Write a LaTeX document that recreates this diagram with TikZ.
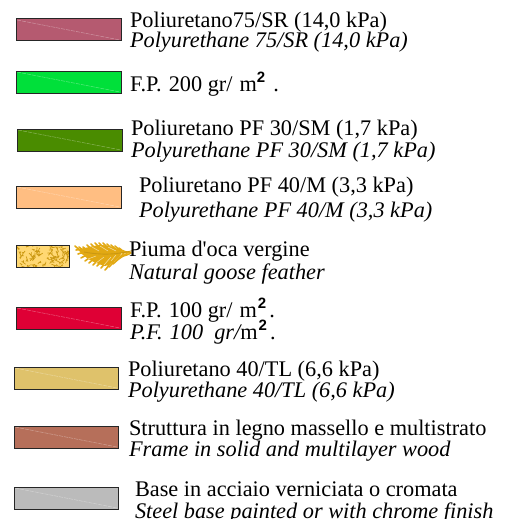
\documentclass[tikz,border=0pt]{standalone}
\usepackage{fontspec}
\setmainfont{Liberation Serif}
\newfontfamily\plainserif{Liberation Serif}
\newfontfamily\boldsans{Liberation Sans}
\definecolor{cA}{HTML}{B55A70}
\definecolor{cB}{HTML}{00E03A}
\definecolor{cC}{HTML}{4A8C00}
\definecolor{cD}{HTML}{FFBE82}
\definecolor{cE}{HTML}{FFD873}
\definecolor{cF}{HTML}{DF0035}
\definecolor{cG}{HTML}{DFC26B}
\definecolor{cH}{HTML}{B66F5A}
\definecolor{cI}{HTML}{BBBBBB}
\definecolor{feather}{HTML}{E2A913}
\tikzset{
 swatch/.style={draw=black!85,line width=1pt},
 lbl/.style={anchor=base west,inner sep=0pt,outer sep=0pt,font=\fontsize{22.3}{24}\selectfont},
 sheen/.style={white,opacity=.35,line width=.5pt,dash pattern=on 4pt off 1pt},
 barb/.style={feather,line width=1.6pt,line cap=round},
 slit/.style={white!65!feather,line width=.5pt},
 fleck/.style={feather!90!black,line width=.7pt}
}
\newcommand{\swatchbox}[6]{% name,x0,y0,x1,y1,color
  \path[fill=#6] (#2,#3) rectangle (#4,#5);
  \draw[sheen] (#2+1,#3+1) -- (#4-1,#5-1);
  \draw[swatch] (#2,#3) rectangle (#4,#5);
  \coordinate (#1) at (#2,#3);
}
\newcommand{\sq}{\raisebox{8.5pt}{\boldsans\bfseries\fontsize{15}{15}\selectfont 2}}
\begin{document}
\begin{tikzpicture}[x=1pt,y=-1pt]
\useasboundingbox (0,0) rectangle (511,519);
\swatchbox{s1}{16}{19}{121}{41}{cA}
\swatchbox{s2}{16}{71}{121}{93}{cB}
\swatchbox{s3}{17}{129}{122}{151}{cC}
\swatchbox{s4}{16}{186}{121}{208}{cD}
\path[fill=cE] (16.5,245.5) rectangle (69,267.5);
\begin{scope}
\clip (16.5,245.5) rectangle (69,267.5);
\pgfmathsetseed{4711}
\foreach \i in {1,...,70}{
  \pgfmathsetmacro{\px}{16+53*rnd}
  \pgfmathsetmacro{\py}{245+23*rnd}
  \pgfmathsetmacro{\pa}{360*rnd}
  \pgfmathsetmacro{\pl}{2.5+4*rnd}
  \draw[fleck] (\px,\py) -- ++(\pa:\pl) (\px,\py) ++(\pa:\pl/2) -- ++(\pa+45:\pl/2);
}
\end{scope}
\draw[swatch] (16.5,245.5) rectangle (69,267.5);
\coordinate (s5) at (16,245);
\swatchbox{s6}{16}{307}{121}{329}{cF}
\swatchbox{s7}{14}{367}{118}{389}{cG}
\swatchbox{s8}{14}{426}{118}{448}{cH}
\swatchbox{s9}{14}{487}{118}{509}{cI}
% feather: solid body, barbs fanning from the quill, pale slits
\path[fill=feather] (78,249) .. controls (88,248) and (94,245) .. (102,245)
  .. controls (110,246) and (116,248) .. (122,251) -- (120,256)
  .. controls (114,262) and (110,265) .. (105,266)
  .. controls (94,263) and (84,258) .. (78,249) -- cycle;
\foreach \tx/\ty in {75/246,79/247,83/247,87/245,91/244,95/243,99/243,103/243,107/244,111/245,115/246,119/248}
  \draw[barb] (\tx,\ty) .. controls (\tx+4,\ty+4) and (\tx+8,252) .. (\tx+12,253);
\foreach \tx/\ty in {76/250,78/254,81/258,85/261,89/263,93/265,97/266,101/268,105/270,109/267,113/264,116/261,119/258}
  \draw[barb] (\tx,\ty) .. controls (\tx+4,\ty-3) and (\tx+7,256) .. (\tx+11,253.5);
\foreach \xa/\ya/\xb/\yb in {92/247/99/251, 100/246/108/251, 108/247/116/251,
  88/259/96/256, 96/263/104/257, 104/265/111/257, 111/261/116/255}
  \draw[slit] (\xa,\ya) -- (\xb,\yb);
\draw[feather!90!black,line width=.9pt] (84,252) .. controls (100,255) and (115,255) .. (133,250.5);
\node[lbl] (t1a) at (130,28) {Poliuretano75/SR (14,0 kPa)};
\node[lbl] (t1b) at (130,48) {\itshape Polyurethane 75/SR (14,0 kPa)};
\node[lbl] (t2a) at (130,91) {F.P.\hspace{1.5pt} 200 gr/\hspace{1.5pt} m\sq\hspace{8pt}.};
\node[lbl] (t3a) at (131,135) {Poliuretano PF 30/SM (1,7 kPa)};
\node[lbl] (t3b) at (131,157) {\itshape Polyurethane PF 30/SM (1,7 kPa)};
\node[lbl] (t4a) at (139,192) {Poliuretano PF 40/M (3,3 kPa)};
\node[lbl] (t4b) at (139,217) {\itshape Polyurethane PF 40/M (3,3 kPa)};
\node[lbl] (t5a) at (129,256) {Piuma d{\plainserif '}oca vergine};
\node[lbl] (t5b) at (129,279) {\itshape Natural goose feather};
\node[lbl] (t6a) at (130,317) {F.P.\hspace{1.5pt} 100 gr/\hspace{1.5pt} m\hspace{1pt}\sq\hspace{3pt}.};
\node[lbl] (t6b) at (130,339) {\itshape P.F.\hspace{1.5pt} 100\ \ gr/{\upshape m\hspace{1pt}\sq\hspace{3pt}.}};
\node[lbl] (t7a) at (128,376) {Poliuretano 40/TL (6,6 kPa)};
\node[lbl] (t7b) at (128,397) {\itshape Polyurethane 40/TL (6,6 kPa)};
\node[lbl] (t8a) at (129,435) {Struttura in legno massello e multistrato};
\node[lbl] (t8b) at (129,456) {\itshape Frame in solid and multilayer wood};
\node[lbl] (t9a) at (135,496) {Base in acciaio verniciata o cromata};
\node[lbl] (t9b) at (135,518) {\itshape Steel base painted or with chrome finish};
\end{tikzpicture}
\end{document}
